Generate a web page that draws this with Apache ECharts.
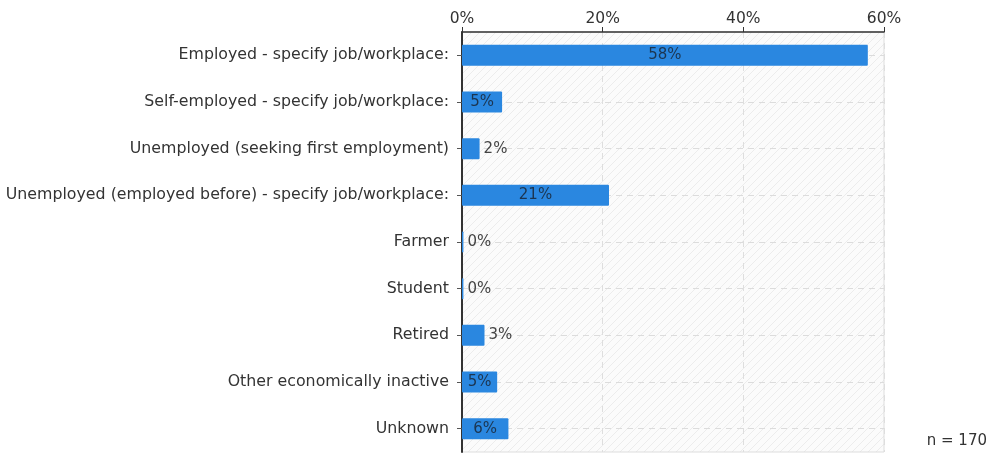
<!DOCTYPE html>
<html>
<head>
<meta charset="utf-8">
<script src="https://cdn.jsdelivr.net/npm/echarts@6/dist/echarts.min.js"></script>
<style>
html,body{margin:0;padding:0;background:#fff;}
#chart{width:992px;height:455px;}
</style>
</head>
<body>
<div id="chart"></div>
<script>
var categories = [
  'Employed - specify job/workplace:',
  'Self-employed - specify job/workplace:',
  'Unemployed (seeking first employment)',
  'Unemployed (employed before) - specify job/workplace:',
  'Farmer',
  'Student',
  'Retired',
  'Other economically inactive',
  'Unknown'
];
var values = [57.7, 5.7, 2.5, 20.9, 0.2, 0.2, 3.2, 5.0, 6.6];
var valueLabels = ['58%', '5%', '2%', '21%', '0%', '0%', '3%', '5%', '6%'];
var labelInside = [true, true, false, true, false, false, false, true, true];
var xTicks = [0, 20, 40, 60];
var sampleNote = 'n = 170';

function makePattern() {
  var c = document.createElement('canvas');
  c.width = 8; c.height = 8;
  var g = c.getContext('2d');
  g.fillStyle = '#fbfbfb';
  g.fillRect(0, 0, 8, 8);
  g.strokeStyle = '#ececec';
  g.lineWidth = 1;
  g.beginPath();
  g.moveTo(0, 8); g.lineTo(8, 0);
  g.moveTo(-4, 4); g.lineTo(4, -4);
  g.moveTo(4, 12); g.lineTo(12, 4);
  g.stroke();
  return c;
}

var chart = echarts.init(document.getElementById('chart'), null, {renderer: 'canvas'});
var font = 'DejaVu Sans';

var barData = values.map(function (v, i) {
  return {
    value: v,
    label: labelInside[i]
      ? {show: true, position: 'inside', color: '#1c3550', formatter: valueLabels[i]}
      : {show: true, position: 'right', distance: 4, color: '#444', formatter: valueLabels[i]}
  };
});

chart.setOption({
  animation: false,
  textStyle: {fontFamily: font},
  grid: {
    left: 462, right: 108, top: 32, bottom: 3,
    show: true,
    backgroundColor: {image: makePattern(), repeat: 'repeat'},
    borderWidth: 1,
    borderColor: '#dddddd'
  },
  xAxis: {
    type: 'value',
    position: 'top',
    min: xTicks[0],
    max: xTicks[xTicks.length - 1],
    interval: 20,
    axisLine: {show: true, lineStyle: {color: '#333', width: 1.5}},
    axisTick: {show: true, length: 5, lineStyle: {color: '#333'}},
    axisLabel: {color: '#333', fontSize: 15.5, fontFamily: font, formatter: '{value}%', margin: 5},
    splitLine: {show: true, lineStyle: {color: '#dedede', type: [6, 5]}}
  },
  yAxis: {
    type: 'category',
    inverse: true,
    data: categories,
    axisLine: {show: true, lineStyle: {color: '#333', width: 2}},
    axisTick: {show: true, alignWithLabel: true, length: 5, lineStyle: {color: '#555'}},
    axisLabel: {color: '#333', fontSize: 15.8, fontFamily: font, margin: 13},
    splitLine: {show: false}
  },
  series: [
    {
      type: 'line',
      data: [],
      z: 1,
      silent: true,
      markLine: {
        silent: true,
        z: 1,
        symbol: 'none',
        label: {show: false},
        lineStyle: {color: '#dcdcdc', type: [6, 5], width: 1},
        data: categories.map(function (c) { return {yAxis: c}; })
      }
    },
    {
      type: 'bar',
      z: 3,
      data: barData,
      barWidth: 21,
      itemStyle: {color: '#2a87e0', borderRadius: 1},
      label: {fontSize: 15, fontFamily: font}
    }
  ],
  graphic: [{
    type: 'text',
    right: 5,
    bottom: 6,
    style: {text: sampleNote, fill: '#333', font: '15px "DejaVu Sans"'}
  }]
});
</script>
</body>
</html>
